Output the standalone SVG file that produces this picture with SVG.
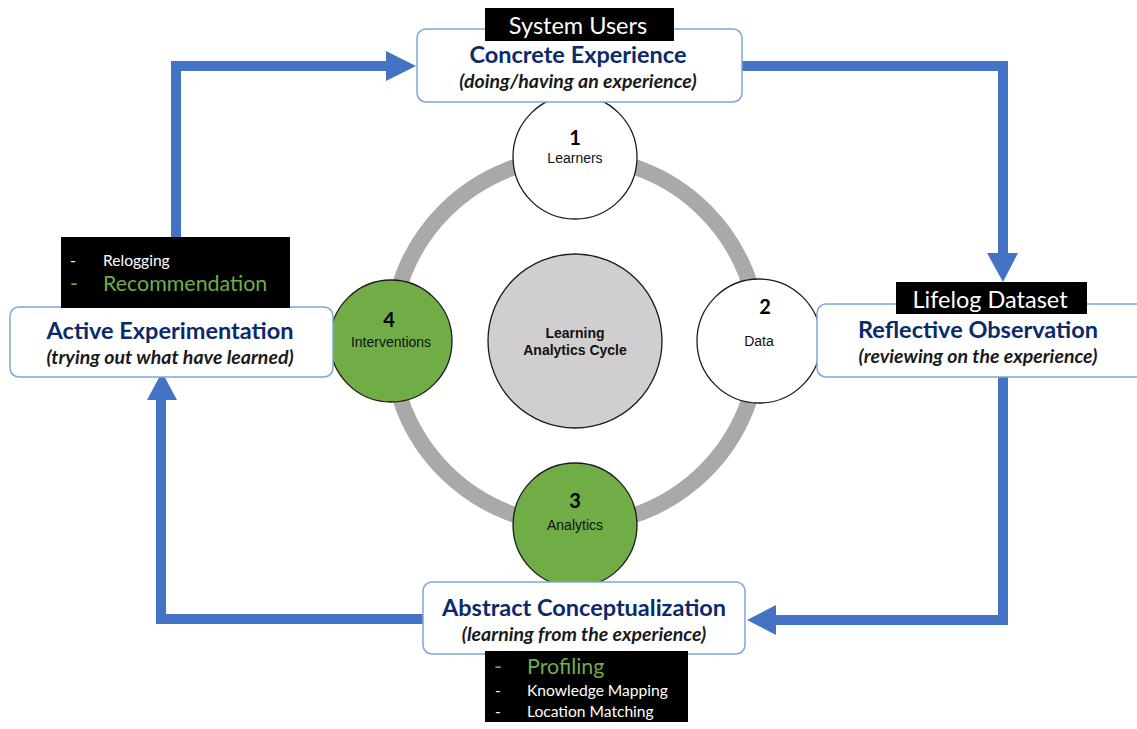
<svg xmlns="http://www.w3.org/2000/svg" width="1137" height="729" viewBox="0 0 1137 729">
<defs>
<style>
.box{fill:#fff;stroke:#7ea6d8;stroke-width:1.5}
.blk{fill:#000}
.ttl{font-family:Lato,"Liberation Sans",sans-serif;font-weight:700;font-size:23.5px;fill:#0b2a6b;text-anchor:middle}
.sub{font-family:Lato,"Liberation Sans",sans-serif;font-weight:700;font-style:italic;font-size:19.5px;fill:#1a1a1a;text-anchor:middle}
.wh{font-family:Lato,"Liberation Sans",sans-serif;font-size:23.5px;fill:#fff;text-anchor:middle}
.sm{font-family:Lato,"Liberation Sans",sans-serif;font-size:15.6px;fill:#fff}
.gr{font-family:Lato,"Liberation Sans",sans-serif;font-size:21.4px;fill:#70ad47}
.node{stroke:#1a1a1a;stroke-width:1.3}
.num{font-family:Lato,"Liberation Sans",sans-serif;font-weight:700;font-size:20px;fill:#000;text-anchor:middle}
.lbl{font-family:"Liberation Sans",Arial,sans-serif;font-size:14px;fill:#111;text-anchor:middle}
.ctr{font-family:"Liberation Sans",Arial,sans-serif;font-weight:700;font-size:14px;fill:#111;text-anchor:middle}
.arr{fill:none;stroke:#4472c4;stroke-width:10}
.head{fill:#4472c4}
</style>
</defs>

<circle cx="575" cy="341" r="184" fill="none" stroke="#a9a9a9" stroke-width="16"/>

<g id="connectors">
<path class="arr" d="M176 238 V66 H388"/>
<polygon class="head" points="386,51 416,66 386,81"/>
<path class="arr" d="M742 66 H1003 V256"/>
<polygon class="head" points="987,253 1003,282 1018,253"/>
<path class="arr" d="M1003 377 V620 H774"/>
<polygon class="head" points="776,605 747,620 776,635"/>
<path class="arr" d="M423 619 H161 V398"/>
<polygon class="head" points="147,400 162,372 177,400"/>
</g>

<g id="center">
<circle class="node" cx="575" cy="341" r="87" fill="#d0cece"/>
<text class="ctr" x="575" y="338">Learning</text>
<text class="ctr" x="575" y="355">Analytics Cycle</text>
</g>

<g id="n1">
<circle class="node" cx="575" cy="157" r="62" fill="#fff"/>
<text class="num" x="575" y="145">1</text>
<text class="lbl" x="575" y="163">Learners</text>
</g>
<g id="n2">
<circle class="node" cx="759" cy="341" r="62" fill="#fff"/>
<text class="num" x="765" y="314">2</text>
<text class="lbl" x="759" y="346">Data</text>
</g>
<g id="n3">
<circle class="node" cx="575" cy="525" r="62" fill="#70ad47"/>
<text class="num" x="575" y="508">3</text>
<text class="lbl" x="575" y="530">Analytics</text>
</g>
<g id="n4">
<circle class="node" cx="391" cy="341" r="61" fill="#70ad47"/>
<text class="num" x="389" y="327">4</text>
<text class="lbl" x="391" y="347">Interventions</text>
</g>

<g id="concrete">
<rect class="box" x="417" y="29" width="325" height="73" rx="9"/>
<rect class="blk" x="485" y="8" width="189" height="33"/>
<text class="wh" x="578" y="34">System Users</text>
<text class="ttl" x="578" y="63">Concrete Experience</text>
<text class="sub" x="578" y="88">(doing/having an experience)</text>
</g>

<g id="reflective">
<rect class="box" x="817" y="304" width="330" height="73" rx="9"/>
<rect class="blk" x="896" y="282" width="191" height="32"/>
<text class="wh" x="990" y="308">Lifelog Dataset</text>
<text class="ttl" x="978" y="338">Reflective Observation</text>
<text class="sub" x="978" y="363">(reviewing on the experience)</text>
</g>

<g id="abstract">
<rect class="box" x="423" y="582" width="322" height="72" rx="9"/>
<rect class="blk" x="485" y="651" width="203" height="71"/>
<text class="ttl" x="584" y="616">Abstract Conceptualization</text>
<text class="sub" x="584" y="641">(learning from the experience)</text>
<text class="gr" x="494" y="674">-</text>
<text class="gr" x="527" y="674">Profiling</text>
<text class="sm" x="495" y="696">-</text>
<text class="sm" x="527" y="696">Knowledge Mapping</text>
<text class="sm" x="495" y="717">-</text>
<text class="sm" x="527" y="717">Location Matching</text>
</g>

<g id="active">
<rect class="box" x="10" y="307" width="323" height="70" rx="9"/>
<rect class="blk" x="61" y="237" width="229" height="71"/>
<text class="sm" x="70" y="266">-</text>
<text class="sm" x="103" y="266">Relogging</text>
<text class="gr" x="70" y="291">-</text>
<text class="gr" x="103" y="291">Recommendation</text>
<text class="ttl" x="170" y="339">Active Experimentation</text>
<text class="sub" x="170" y="364">(trying out what have learned)</text>
</g>
</svg>
